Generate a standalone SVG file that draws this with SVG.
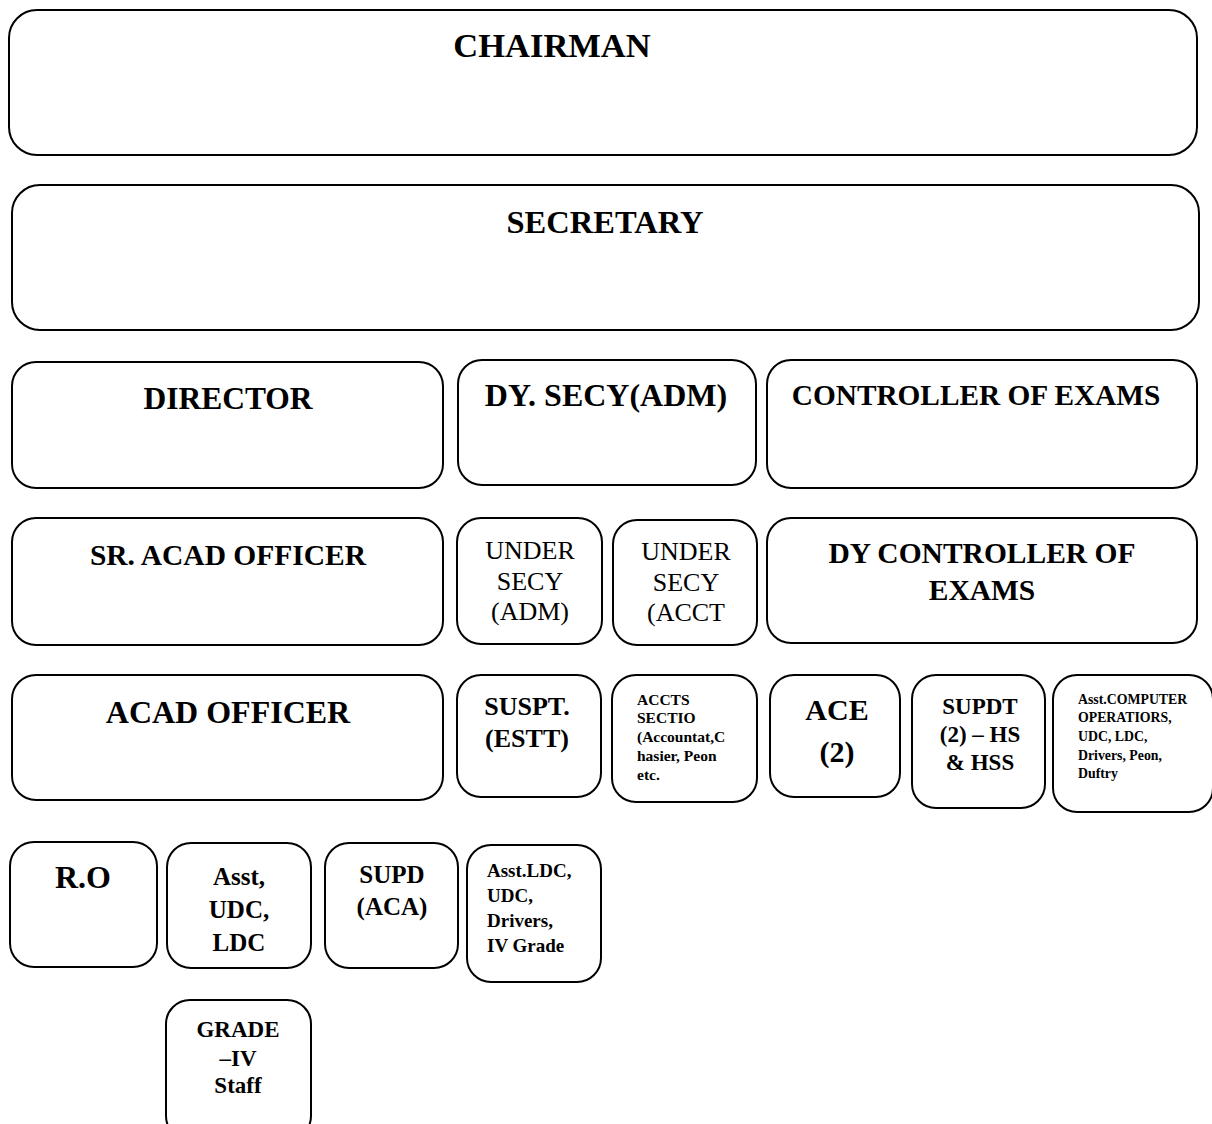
<svg xmlns="http://www.w3.org/2000/svg" width="1212" height="1124" viewBox="0 0 1212 1124">
<style>
rect{fill:#fff;stroke:#000;stroke-width:2}
text{font-family:"Liberation Serif","Times New Roman",serif;fill:#000}
.b{font-weight:bold}
.c{text-anchor:middle}
</style>
<rect x="0" y="0" width="1212" height="1124" style="stroke:none"/>
<g id="chairman"><rect x="9" y="10" width="1188" height="145" rx="28"/><text class="b c" x="552" y="57" font-size="34.5">CHAIRMAN</text></g>
<g id="secretary"><rect x="12" y="185" width="1187" height="145" rx="28"/><text class="b c" x="605" y="233" font-size="32.5">SECRETARY</text></g>
<g id="director"><rect x="12" y="362" width="431" height="126" rx="24"/><text class="b c" x="228" y="409" font-size="31.5">DIRECTOR</text></g>
<g id="dysecy"><rect x="458" y="360" width="298" height="125" rx="24"/><text class="b c" x="606" y="406" font-size="32">DY. SECY(ADM)</text></g>
<g id="coe"><rect x="767" y="360" width="430" height="128" rx="24"/><text class="b c" x="976" y="405" font-size="29.3">CONTROLLER OF EXAMS</text></g>
<g id="sracad"><rect x="12" y="518" width="431" height="127" rx="24"/><text class="b c" x="228" y="565" font-size="29.5">SR. ACAD OFFICER</text></g>
<g id="usadm"><rect x="457" y="518" width="145" height="126" rx="24"/><text class="c" x="530" y="559" font-size="26">UNDER</text><text class="c" x="530" y="590" font-size="26">SECY</text><text class="c" x="530" y="620" font-size="26">(ADM)</text></g>
<g id="usacct"><rect x="613" y="520" width="144" height="125" rx="24"/><text class="c" x="686" y="560" font-size="26">UNDER</text><text class="c" x="686" y="591" font-size="26">SECY</text><text class="c" x="686" y="621" font-size="26">(ACCT</text></g>
<g id="dycoe"><rect x="767" y="518" width="430" height="125" rx="24"/><text class="b c" x="982" y="563" font-size="29.5">DY CONTROLLER OF</text><text class="b c" x="982" y="600" font-size="29.5">EXAMS</text></g>
<g id="acad"><rect x="12" y="675" width="431" height="125" rx="24"/><text class="b c" x="228" y="723" font-size="32">ACAD OFFICER</text></g>
<g id="suspt"><rect x="457" y="675" width="144" height="122" rx="24"/><text class="b c" x="527" y="715" font-size="26">SUSPT.</text><text class="b c" x="527" y="747" font-size="26">(ESTT)</text></g>
<g id="accts"><rect x="612" y="675" width="145" height="127" rx="24"/><text class="b" x="637" y="705" font-size="15.5">ACCTS</text><text class="b" x="637" y="723" font-size="15.5">SECTIO</text><text class="b" x="637" y="742" font-size="15.5">(Accountat,C</text><text class="b" x="637" y="761" font-size="15.5">hasier, Peon</text><text class="b" x="637" y="780" font-size="15.5">etc.</text></g>
<g id="ace"><rect x="770" y="675" width="130" height="122" rx="24"/><text class="b c" x="837" y="720" font-size="30">ACE</text><text class="b c" x="837" y="762" font-size="30">(2)</text></g>
<g id="supdt"><rect x="912" y="675" width="133" height="133" rx="24"/><text class="b c" x="980" y="714" font-size="23">SUPDT</text><text class="b c" x="980" y="742" font-size="23">(2) – HS</text><text class="b c" x="980" y="770" font-size="23">&amp; HSS</text></g>
<g id="acomp"><rect x="1053" y="675" width="160" height="137" rx="24"/><text class="b" x="1078" y="704" font-size="13.8">Asst.COMPUTER</text><text class="b" x="1078" y="722" font-size="13.8">OPERATIORS,</text><text class="b" x="1078" y="741" font-size="13.8">UDC, LDC,</text><text class="b" x="1078" y="760" font-size="13.8">Drivers, Peon,</text><text class="b" x="1078" y="778" font-size="13.8">Duftry</text></g>
<g id="ro"><rect x="10" y="842" width="147" height="125" rx="24"/><text class="b c" x="83" y="888" font-size="32">R.O</text></g>
<g id="asst"><rect x="167" y="843" width="144" height="125" rx="24"/><text class="b c" x="239" y="885" font-size="25">Asst,</text><text class="b c" x="239" y="918" font-size="25">UDC,</text><text class="b c" x="239" y="951" font-size="25">LDC</text></g>
<g id="supdaca"><rect x="325" y="843" width="133" height="125" rx="24"/><text class="b c" x="392" y="883" font-size="25">SUPD</text><text class="b c" x="392" y="915" font-size="25">(ACA)</text></g>
<g id="asstldc"><rect x="467" y="845" width="134" height="137" rx="24"/><text class="b" x="487" y="877" font-size="19">Asst.LDC,</text><text class="b" x="487" y="902" font-size="19">UDC,</text><text class="b" x="487" y="927" font-size="19">Drivers,</text><text class="b" x="487" y="952" font-size="19">IV Grade</text></g>
<g id="grade4"><rect x="166" y="1000" width="145" height="140" rx="24"/><text class="b c" x="238" y="1037" font-size="23">GRADE</text><text class="b c" x="238" y="1066" font-size="23">–IV</text><text class="b c" x="238" y="1093" font-size="23">Staff</text></g>
<g id="connectors"></g>
</svg>
